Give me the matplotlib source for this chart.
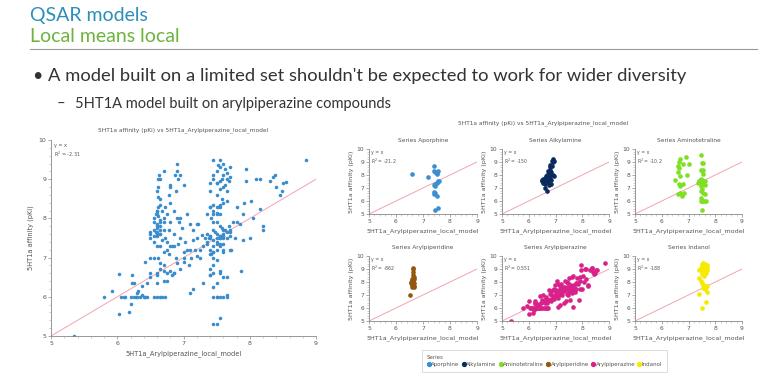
import matplotlib
matplotlib.use("Agg")
import matplotlib.pyplot as plt
from matplotlib.ticker import AutoMinorLocator
from matplotlib.lines import Line2D

series_names = ["Aporphine", "Alkylamine", "Aminotetraline",
                "Arylpiperidine", "Arylpiperazine", "Indanol"]
series_colors = ["#3a8fd4", "#0b2a5c", "#7ee022", "#95560f", "#d8228a", "#f7ea00"]
r2_values = ["-21.2", "-150", "-10.2", "-862", "0.551", "-188"]

aporphine_x = [6.6, 7.2, 7.4, 7.4, 7.45, 7.5, 7.55, 7.5, 7.55, 7.6, 7.5, 7.45,
               7.45, 7.4, 7.4, 7.4, 7.45, 7.5, 7.45, 7.55]
aporphine_y = [8.1, 7.85, 8.7, 8.3, 8.2, 8.15, 8.3, 8.1, 7.5, 7.55, 7.4, 7.3,
               7.15, 7.2, 6.7, 6.55, 6.6, 6.35, 5.3, 5.45]

alkylamine_x = [6.5, 6.5, 6.55, 6.55, 6.6, 6.6, 6.6, 6.62, 6.65, 6.65, 6.7, 6.7,
                6.7, 6.72, 6.75, 6.75, 6.78, 6.78, 6.8, 6.8, 6.8, 6.82, 6.85, 6.85,
                6.87, 6.88, 6.9, 6.9, 6.92, 6.93, 6.95, 6.6, 6.68, 6.58, 6.72, 6.55]
alkylamine_y = [7.6, 7.5, 7.7, 7.4, 7.55, 7.8, 7.3, 7.0, 7.6, 7.9, 8.0, 7.7,
                6.8, 7.5, 8.1, 7.2, 8.6, 7.7, 8.8, 8.4, 7.9, 7.3, 8.2, 7.6,
                9.1, 8.7, 9.2, 8.0, 9.0, 7.9, 9.1, 7.6, 7.45, 7.65, 8.3, 7.55]

aminotetraline_x = [6.5, 6.6, 6.65, 6.65, 6.7, 6.6, 6.65, 6.7, 6.6, 6.75, 6.7, 6.8,
                    6.85, 6.8, 6.9, 6.95, 7.0, 6.7,
                    7.35, 7.4, 7.45, 7.5, 7.55, 7.45, 7.5, 7.55, 7.5, 7.55, 7.6, 7.5,
                    7.45, 7.55, 7.5, 7.55, 7.6, 7.45, 7.45, 7.5, 7.55, 7.6, 7.65, 7.45,
                    7.5, 7.4, 7.55, 7.45, 7.6]
aminotetraline_y = [7.65, 8.7, 9.0, 8.5, 9.2, 8.2, 7.3, 7.15, 6.55, 6.4, 6.65, 8.85,
                    6.6, 7.3, 9.4, 8.0, 8.85, 7.9,
                    7.4, 7.5, 9.5, 8.9, 8.95, 8.35, 8.3, 8.35, 7.6, 7.5, 7.55, 7.35,
                    7.15, 7.3, 6.95, 6.65, 6.5, 6.8, 6.0, 6.0, 6.0, 6.0, 6.0, 6.25,
                    5.3, 7.55, 8.1, 7.7, 7.2]

arylpiperidine_x = [6.5, 6.55, 6.55, 6.6, 6.6, 6.62, 6.62, 6.62, 6.62, 6.63, 6.6, 6.65,
                    6.65, 6.65, 6.65, 6.58, 6.62, 6.67, 6.6, 6.64]
arylpiperidine_y = [7.0, 7.9, 8.0, 7.85, 8.2, 8.3, 8.55, 8.8, 9.0, 9.1, 7.75, 7.7,
                    7.6, 7.95, 8.35, 8.1, 8.05, 8.2, 7.65, 7.8]

arylpiperazine_x = [5.35, 5.8, 5.92, 6.02, 6.02, 6.05, 6.1, 6.12, 6.17, 6.2, 6.2, 6.22,
                    6.22, 6.25, 6.28, 6.3, 6.32, 6.35, 6.37, 6.38, 6.4, 6.42, 6.42, 6.45,
                    6.5, 6.55, 6.6, 6.6, 6.6, 6.65, 6.65, 6.68, 6.7, 6.72, 6.75, 6.78,
                    6.8, 6.82, 6.85, 6.88, 6.9, 6.92, 6.95, 7.0, 7.0, 7.02, 7.05, 7.05,
                    7.08, 7.1, 7.1, 7.12, 7.15, 7.15, 7.18, 7.2, 7.2, 7.22, 7.25, 7.28,
                    7.3, 7.3, 7.32, 7.35, 7.35, 7.38, 7.4, 7.4, 7.42, 7.42, 7.45, 7.45,
                    7.48, 7.5, 7.5, 7.52, 7.55, 7.55, 7.58, 7.6, 7.6, 7.62, 7.65, 7.65,
                    7.68, 7.7, 7.72, 7.75, 7.78, 7.8, 7.85, 7.87, 7.9, 7.92, 7.95, 8.0,
                    8.02, 8.1, 8.15, 8.2, 8.2, 8.3, 8.35, 8.38, 8.4, 8.45, 8.48, 8.5,
                    8.55, 8.85, 7.95, 7.9, 7.6, 7.45, 7.35, 6.95, 6.85, 6.75, 6.5, 6.45,
                    6.3, 6.25, 6.55, 6.65, 7.0, 7.25, 7.55, 7.7, 7.8, 8.05, 7.15, 6.98,
                    7.1, 7.6, 7.65, 8.15]
arylpiperazine_y = [5.0, 6.0, 6.15, 5.55, 6.57, 6.0, 6.0, 6.0, 5.62, 5.82, 6.0, 6.55,
                    6.35, 6.35, 6.0, 6.0, 6.15, 6.0, 6.05, 6.28, 6.0, 6.0, 6.9, 6.0,
                    6.6, 7.0, 6.0, 6.35, 6.6, 6.7, 6.85, 6.0, 6.4, 6.0, 6.6, 7.1,
                    6.65, 6.55, 6.6, 7.0, 6.85, 7.35, 6.7, 7.0, 7.15, 7.4, 7.2, 8.1,
                    6.8, 6.1, 7.2, 7.0, 7.7, 6.2, 7.2, 7.05, 7.5, 7.85, 7.2, 7.58,
                    7.3, 6.35, 7.5, 8.1, 7.35, 7.5, 7.55, 6.55, 7.1, 8.0, 7.45, 7.0,
                    7.65, 7.5, 7.2, 8.3, 7.55, 6.6, 7.75, 7.35, 7.6, 7.7, 7.5, 6.05,
                    7.8, 7.55, 7.2, 7.9, 7.5, 8.3, 7.85, 6.65, 8.1, 8.4, 8.95, 7.5,
                    8.45, 9.0, 8.25, 7.7, 7.8, 8.95, 9.05, 9.1, 8.8, 8.6, 8.7, 8.9,
                    8.92, 9.48, 9.27, 7.45, 8.4, 7.9, 7.6, 7.5, 7.3, 7.4, 6.5, 6.35,
                    6.1, 6.0, 6.0, 6.0, 6.9, 7.0, 7.35, 7.65, 7.9, 8.0, 7.45, 7.75,
                    7.85, 7.15, 8.45, 9.0]

indanol_x = [7.4, 7.45, 7.5, 7.5, 7.55, 7.55, 7.6, 7.6, 7.6, 7.62, 7.65, 7.65,
             7.68, 7.7, 7.7, 7.55, 7.5, 7.58, 7.65, 7.4, 7.45, 7.5, 7.55, 7.6,
             7.65, 7.7, 7.55, 7.6, 7.4, 7.7, 7.65, 7.5, 7.45, 7.58, 7.52, 7.63]
indanol_y = [8.9, 9.0, 9.2, 8.9, 9.3, 9.5, 9.4, 9.1, 8.8, 9.25, 9.0, 9.15,
             8.95, 9.3, 9.05, 8.75, 8.6, 8.5, 8.7, 8.3, 8.1, 7.9, 7.8, 7.7,
             7.65, 7.7, 7.55, 7.5, 7.1, 7.2, 6.5, 6.0, 9.1, 9.0, 9.35, 8.85]

series_x = [aporphine_x, alkylamine_x, aminotetraline_x,
            arylpiperidine_x, arylpiperazine_x, indanol_x]
series_y = [aporphine_y, alkylamine_y, aminotetraline_y,
            arylpiperidine_y, arylpiperazine_y, indanol_y]

W, H = 768, 384
GRAY = "#555555"


def px(l, t, r, b):
    # pixel box -> figure fraction rect
    return [l / W, 1 - b / H, (r - l) / W, (b - t) / H]


def style_axes(ax, fs):
    ax.set_xlim(5, 9)
    ax.set_ylim(5, 10)
    ax.set_xticks([5, 6, 7, 8, 9])
    ax.set_yticks([5, 6, 7, 8, 9, 10])
    ax.xaxis.set_minor_locator(AutoMinorLocator(5))
    ax.yaxis.set_minor_locator(AutoMinorLocator(5))
    for s in ["top", "right"]:
        ax.spines[s].set_visible(False)
    for s in ["left", "bottom"]:
        ax.spines[s].set_color("#888888")
        ax.spines[s].set_linewidth(0.6)
    ax.tick_params(which="major", length=2.5, width=0.5, color="#888888",
                   labelsize=fs, labelcolor=GRAY, pad=1)
    ax.tick_params(which="minor", length=1.3, width=0.4, color="#aaaaaa")
    ax.plot([5, 9], [5, 9], color="#f2a4ad", lw=0.7, zorder=1)


fig = plt.figure(figsize=(W / 100, H / 100), dpi=100)
fig.patch.set_facecolor("white")

# slide header text
slide_font = ["Lato", "DejaVu Sans"]
fig.text(30 / W, 1 - 15 / H, "QSAR models", color="#2b8fb8", fontsize=14,
         family=slide_font, va="center")
fig.text(30 / W, 1 - 36 / H, "Local means local", color="#6db33f", fontsize=14,
         family=slide_font, va="center")
fig.add_artist(Line2D([30 / W, 757 / W], [1 - 49 / H, 1 - 49 / H],
                      color="#999999", lw=0.8))
fig.text(32 / W, 1 - 76 / H, "\u2022", color="#333333", fontsize=13,
         family=slide_font, va="center")
fig.text(48 / W, 1 - 76 / H,
         "A model built on a limited set shouldn't be expected to work for wider diversity",
         color="#333333", fontsize=13.2, family=slide_font, va="center")
fig.text(57 / W, 1 - 104 / H, "\u2013", color="#333333", fontsize=10.5,
         family=slide_font, va="center")
fig.text(75 / W, 1 - 104 / H, "5HT1A model built on arylpiperazine compounds",
         color="#333333", fontsize=10.5, family=slide_font, va="center")

# big combined plot
all_x = [v for xs in series_x for v in xs]
all_y = [v for ys in series_y for v in ys]
ax = fig.add_axes(px(51, 140, 316, 336))
style_axes(ax, 4.5)
ax.scatter(all_x, all_y, s=6.5, color="#3a8dcc", linewidths=0, zorder=2)
ax.set_title("5HT1a affinity (pKi) vs 5HT1a_Arylpiperazine_local_model",
             fontsize=4.2, color=GRAY, pad=6)
ax.set_xlabel("5HT1a_Arylpiperazine_local_model", fontsize=4.8, color=GRAY, labelpad=3)
ax.set_ylabel("5HT1a affinity (pKi)", fontsize=4.8, color=GRAY, labelpad=3)
ax.text(0.012, 0.985, "y = x\nR$^2$ = -2.31", transform=ax.transAxes, fontsize=3.5,
        color=GRAY, va="top", linespacing=1.2)

# small multiples
fig.text(543 / W, 1 - 123 / H, "5HT1a affinity (pKi) vs 5HT1a_Arylpiperazine_local_model",
         fontsize=4.2, color=GRAY, ha="center", va="center")
cols = [(369, 477), (502, 609), (635, 742)]
rows = [(149, 214), (256, 321)]
handles = []
for i, name in enumerate(series_names):
    l, r = cols[i % 3]
    t, b = rows[i // 3]
    a = fig.add_axes(px(l, t, r, b))
    style_axes(a, 4.3)
    a.scatter(series_x[i], series_y[i], s=11, color=series_colors[i],
              linewidths=0, zorder=2)
    handles.append(Line2D([], [], marker="o", ls="", color=series_colors[i],
                          markersize=2.8, label=name))
    a.set_title("Series " + name, fontsize=4.2, color=GRAY, pad=5)
    a.set_xlabel("5HT1a_Arylpiperazine_local_model", fontsize=4.6, color=GRAY, labelpad=3)
    a.set_ylabel("5HT1a affinity (pKi)", fontsize=4.6, color=GRAY, labelpad=2)
    a.text(0.015, 0.98, "y = x\nR$^2$ = " + r2_values[i], transform=a.transAxes,
           fontsize=3.3, color=GRAY, va="top", linespacing=1.2)

leg = fig.legend(handles=handles, title="Series", ncol=6, loc="center",
                 bbox_to_anchor=(544.5 / W, 1 - 361 / H), fontsize=4.0,
                 title_fontsize=4.0, frameon=True, handletextpad=0.05,
                 columnspacing=0.35, borderpad=0.6, handlelength=0.8)
leg._legend_box.align = "left"
leg.get_frame().set_edgecolor("#cccccc")
leg.get_frame().set_linewidth(0.6)
leg.get_frame().set_boxstyle("square")
for txt in leg.get_texts():
    txt.set_color(GRAY)
leg.get_title().set_color(GRAY)

fig.savefig("out.png", dpi=100)
